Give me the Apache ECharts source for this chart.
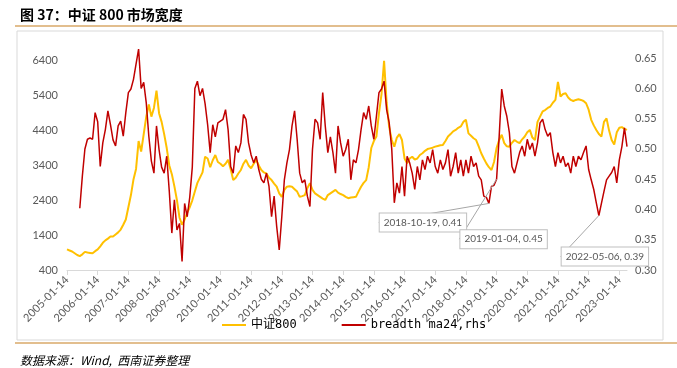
<!DOCTYPE html>
<html>
<head>
<meta charset="utf-8">
<script src="https://cdn.jsdelivr.net/npm/echarts@6/dist/echarts.min.js"></script>
<style>
html, body { margin: 0; padding: 0; background: #fff; }
#chart { width: 677px; height: 368px; }
</style>
</head>
<body>
<div id="chart"></div>
<script>
// monthly categories, 2005-01 .. 2023-04 (label every January)
var months = [];
for (var y = 2005; y <= 2023; y++) {
    for (var m = 1; m <= 12; m++) {
        if (y === 2023 && m > 4) break;
        months.push(y + '-' + (m < 10 ? '0' + m : m) + '-14');
    }
}

var leftTicks = [400, 1400, 2400, 3400, 4400, 5400, 6400];
var rightTicks = [0.30, 0.35, 0.40, 0.45, 0.50, 0.55, 0.60, 0.65];

// 中证800 (left axis)
var csi800 = [
    990, 960, 930, 880, 830, 800, 850, 920, 900, 890, 880, 940,
    990, 1080, 1180, 1250, 1300, 1360, 1360, 1420, 1480, 1560, 1700, 1850,
    2200, 2550, 3000, 3300, 4100, 3800, 4300, 4800, 5150, 4800, 5050, 5550,
    4900, 4650, 4300, 3900, 3400, 3150, 2800, 2400, 1900, 1700, 1850, 2050,
    2200, 2400, 2650, 2900, 3050, 3200, 3650, 3600, 3350, 3550, 3700, 3500,
    3450, 3380, 3450, 3560, 3300, 2980, 3050, 3170, 3270, 3450, 3560, 3400,
    3320, 3450, 3560, 3400, 3270, 3200, 3170, 3050, 2980, 2880, 2790, 2600,
    2500, 2700, 2790, 2800, 2790, 2720, 2650, 2500, 2520, 2550, 2750, 2890,
    2700, 2600, 2550, 2500, 2450, 2410, 2550, 2600, 2650, 2700, 2620, 2580,
    2550, 2500, 2460, 2480, 2490, 2500, 2650, 2790, 2900, 2980, 3350, 3900,
    4100, 4230, 4900, 5450, 6400, 5200, 4500, 4130, 3940, 4200, 4300, 4130,
    3600, 3460, 3600, 3650, 3570, 3600, 3700, 3750, 3820, 3870, 3890, 3910,
    3940, 3960, 3980, 3990, 4100, 4230, 4300, 4380, 4420, 4480, 4520, 4650,
    4710, 4320, 4250, 4180, 4130, 3950, 3750, 3600, 3460, 3350, 3270, 3500,
    3900, 4130, 4280, 4040, 3950, 3940, 4050, 4130, 4080, 4040, 4150, 4230,
    4350, 4420, 4200, 4130, 4650, 4800, 4950, 4990, 5050, 5090, 5200, 5280,
    5800, 5380, 5450, 5470, 5350, 5280, 5250, 5280, 5300, 5280, 5250, 5185,
    5000, 4710, 4550, 4420, 4300, 4230, 4650, 4750, 4400, 4130, 4000, 4350,
    4480, 4500, 4450, 4420
];

// breadth ma24 (right axis)
var breadth = [
    null, null, null, null, null, 0.402, 0.455, 0.500, 0.516, 0.518, 0.516, 0.560,
    0.545, 0.471, 0.510, 0.532, 0.563, 0.540, 0.515, 0.505, 0.538, 0.546, 0.521, 0.560,
    0.593, 0.599, 0.615, 0.640, 0.665, 0.600, 0.610, 0.576, 0.521, 0.480, 0.460, 0.538,
    0.499, 0.470, 0.460, 0.488, 0.430, 0.361, 0.416, 0.366, 0.377, 0.314, 0.410, 0.388,
    0.420, 0.470, 0.600, 0.612, 0.588, 0.600, 0.575, 0.540, 0.494, 0.540, 0.520, 0.543,
    0.546, 0.549, 0.565, 0.532, 0.471, 0.460, 0.505, 0.494, 0.510, 0.557, 0.549, 0.510,
    0.490, 0.477, 0.488, 0.466, 0.450, 0.444, 0.460, 0.438, 0.388, 0.422, 0.372, 0.333,
    0.388, 0.449, 0.477, 0.499, 0.538, 0.563, 0.516, 0.460, 0.444, 0.449, 0.422, 0.405,
    0.499, 0.549, 0.543, 0.516, 0.593, 0.538, 0.494, 0.520, 0.494, 0.460, 0.538, 0.510,
    0.488, 0.499, 0.516, 0.449, 0.482, 0.477, 0.499, 0.532, 0.560, 0.549, 0.571, 0.538,
    0.516, 0.554, 0.593, 0.599, 0.612, 0.565, 0.543, 0.500, 0.411, 0.444, 0.427, 0.471,
    0.422, 0.488, 0.477, 0.460, 0.433, 0.471, 0.449, 0.482, 0.466, 0.488, 0.477, 0.499,
    0.471, 0.460, 0.482, 0.466, 0.477, 0.499, 0.455, 0.471, 0.494, 0.460, 0.482, 0.455,
    0.482, 0.460, 0.488, 0.471, 0.477, 0.455, 0.449, 0.422, 0.420, 0.410, 0.438, 0.440,
    0.450, 0.520, 0.599, 0.571, 0.554, 0.527, 0.471, 0.460, 0.477, 0.494, 0.505, 0.488,
    0.516, 0.499, 0.510, 0.488, 0.510, 0.543, 0.549, 0.532, 0.521, 0.527, 0.494, 0.471,
    0.494, 0.477, 0.488, 0.471, 0.477, 0.460, 0.488, 0.471, 0.488, 0.482, 0.494, 0.505,
    0.466, 0.449, 0.433, 0.411, 0.390, 0.410, 0.430, 0.449, 0.455, 0.461, 0.471, 0.444,
    0.482, 0.504, 0.535, 0.504
];

// callouts
var noteDates = ['2018-10-14', '2019-01-14', '2022-05-14'];
var noteTexts = ['2018-10-19, 0.41', '2019-01-04, 0.45', '2022-05-06, 0.39'];
var noteOffsets = [[-66, 19], [7, 60], [6, 41]];

var axisText = { color: '#595959', fontSize: 11, fontFamily: 'Lato' };

function noteIndex(i) {
    return noteDates.indexOf(months[i]);
}

function drawChart() {
    var myChart = echarts.init(document.getElementById('chart'));
    var breadthData = breadth.map(function (v, i) {
        var k = noteIndex(i);
        if (k < 0) return v;
        return {
            value: v,
            label: { show: true, formatter: noteTexts[k] },
            labelLine: { show: true }
        };
    });
    var option = {
        animation: false,
        title: [{
            text: '图 37：中证 800 市场宽度',
            left: 15,
            top: 3,
            textStyle: { fontSize: 14, fontWeight: 'bold', color: '#000', fontFamily: 'Noto Sans CJK SC' }
        }, {
            text: '数据来源：Wind,  西南证券整理',
            left: 15,
            top: 349,
            textStyle: { fontSize: 12, fontWeight: 'normal', fontStyle: 'italic', color: '#000', fontFamily: 'Noto Sans CJK SC' }
        }],
        graphic: [
            { type: 'line', shape: { x1: 15, y1: 26, x2: 677, y2: 26 }, style: { stroke: '#D9A868', lineWidth: 1.5 } },
            { type: 'rect', shape: { x: 17, y: 31, width: 646, height: 309 }, style: { fill: null, stroke: '#D9D9D9', lineWidth: 1 } },
            { type: 'line', shape: { x1: 15, y1: 343, x2: 677, y2: 343 }, style: { stroke: '#D9A868', lineWidth: 1.5 } }
        ],
        legend: {
            top: 314,
            left: 217,
            icon: 'rect',
            itemWidth: 24,
            itemHeight: 2,
            itemGap: 45,
            textStyle: { fontSize: 12, color: '#000', fontFamily: "'DejaVu Sans Mono', 'Noto Sans CJK SC'" },
            data: ['中证800', 'breadth ma24,rhs']
        },
        grid: { left: 67, right: 50, top: 40, bottom: 98 },
        xAxis: {
            type: 'category',
            data: months,
            boundaryGap: false,
            axisLine: { lineStyle: { color: '#D9D9D9' } },
            axisTick: { interval: 11, length: 5, lineStyle: { color: '#D9D9D9' } },
            axisLabel: Object.assign({ interval: 11, rotate: 45, margin: 8 }, axisText)
        },
        yAxis: [{
            type: 'value',
            min: leftTicks[0],
            max: 7000,
            interval: 1000,
            splitLine: { show: false },
            axisLine: { show: false },
            axisTick: { show: false },
            axisLabel: Object.assign({
                margin: 9,
                showMaxLabel: false,
                formatter: function (v) { return String(v); }
            }, axisText)
        }, {
            type: 'value',
            min: rightTicks[0],
            max: 0.68,
            interval: 0.05,
            splitLine: { show: false },
            axisLine: { show: false },
            axisTick: { show: false },
            axisLabel: Object.assign({
                margin: 8,
                showMaxLabel: false,
                formatter: function (v) { return v.toFixed(2); }
            }, axisText)
        }],
        series: [{
            name: '中证800',
            type: 'line',
            yAxisIndex: 0,
            showSymbol: false,
            color: '#FFC000',
            lineStyle: { width: 2 },
            data: csi800
        }, {
            name: 'breadth ma24,rhs',
            type: 'line',
            yAxisIndex: 1,
            symbol: 'circle',
            symbolSize: 0,
            showSymbol: true,
            showAllSymbol: true,
            color: '#C00000',
            lineStyle: { width: 1.5 },
            label: {
                position: 'inside',
                color: '#595959',
                fontSize: 10,
                fontFamily: 'Lato',
                backgroundColor: '#fff',
                borderColor: '#BFBFBF',
                borderWidth: 1,
                padding: [4, 4]
            },
            labelLine: { lineStyle: { color: '#A6A6A6', width: 1 } },
            labelLayout: function (p) {
                var k = noteIndex(p.dataIndex);
                if (k < 0) return {};
                return { dx: noteOffsets[k][0], dy: noteOffsets[k][1] };
            },
            data: breadthData
        }]
    };
    myChart.setOption(option, true);
    window.onresize = myChart.resize;
}

drawChart();
</script>
</body>
</html>
